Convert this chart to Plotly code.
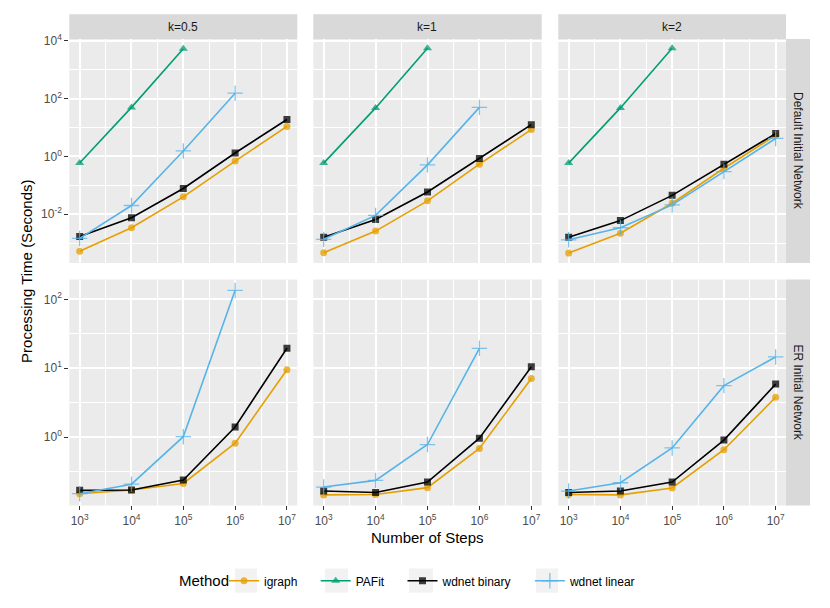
import plotly.graph_objects as go

W, H = 830, 608

# ---------------- data ----------------
steps = [1e3, 1e4, 1e5, 1e6, 1e7]
k_labels = ["k=0.5", "k=1", "k=2"]
row_labels = ["Default Initial Network", "ER Initial Network"]
methods = ["igraph", "PAFit", "wdnet binary", "wdnet linear"]
legend_title = "Method"

x_tickvals = [1e3, 1e4, 1e5, 1e6, 1e7]
x_ticktext = ["10<sup>3</sup>", "10<sup>4</sup>", "10<sup>5</sup>", "10<sup>6</sup>", "10<sup>7</sup>"]
top_tickvals = [1e-2, 1e0, 1e2, 1e4]
top_ticktext = ["10<sup>-2</sup>", "10<sup>0</sup>", "10<sup>2</sup>", "10<sup>4</sup>"]
bottom_tickvals = [1e0, 1e1, 1e2]
bottom_ticktext = ["10<sup>0</sup>", "10<sup>1</sup>", "10<sup>2</sup>"]

# Default initial network (top row)
default_k05_igraph = [0.00052, 0.0034, 0.040, 0.69, 11.0]
default_k05_pafit = [0.59, 50, 5400]
default_k05_binary = [0.0017, 0.0076, 0.078, 1.32, 19.0]
default_k05_linear = [0.00145, 0.020, 1.55, 155]

default_k1_igraph = [0.00046, 0.0026, 0.029, 0.54, 8.5]
default_k1_pafit = [0.59, 48, 5600]
default_k1_binary = [0.0016, 0.0066, 0.059, 0.85, 12.6]
default_k1_linear = [0.00135, 0.0091, 0.51, 50]

default_k2_igraph = [0.00045, 0.0022, 0.024, 0.39, 5.4]
default_k2_pafit = [0.59, 48, 5600]
default_k2_binary = [0.0016, 0.0060, 0.045, 0.54, 6.2]
default_k2_linear = [0.0013, 0.0034, 0.021, 0.30, 4.2]

# ER initial network (bottom row)
er_k05_igraph = [0.152, 0.172, 0.214, 0.82, 9.5]
er_k05_binary = [0.170, 0.172, 0.24, 1.41, 19.5]
er_k05_linear = [0.152, 0.209, 1.02, 135]

er_k1_igraph = [0.146, 0.148, 0.186, 0.69, 7.1]
er_k1_binary = [0.166, 0.158, 0.224, 0.97, 10.5]
er_k1_linear = [0.19, 0.237, 0.785, 19.5]

er_k2_igraph = [0.148, 0.146, 0.184, 0.66, 3.8]
er_k2_binary = [0.158, 0.166, 0.224, 0.91, 5.9]
er_k2_linear = [0.166, 0.219, 0.70, 5.6, 14.6]

panels = [
    {"igraph": default_k05_igraph, "PAFit": default_k05_pafit,
     "wdnet binary": default_k05_binary, "wdnet linear": default_k05_linear},
    {"igraph": default_k1_igraph, "PAFit": default_k1_pafit,
     "wdnet binary": default_k1_binary, "wdnet linear": default_k1_linear},
    {"igraph": default_k2_igraph, "PAFit": default_k2_pafit,
     "wdnet binary": default_k2_binary, "wdnet linear": default_k2_linear},
    {"igraph": er_k05_igraph, "wdnet binary": er_k05_binary, "wdnet linear": er_k05_linear},
    {"igraph": er_k1_igraph, "wdnet binary": er_k1_binary, "wdnet linear": er_k1_linear},
    {"igraph": er_k2_igraph, "wdnet binary": er_k2_binary, "wdnet linear": er_k2_linear},
]

# ---------------- styles ----------------
colors = {"igraph": "#E69F00", "PAFit": "#009E73",
          "wdnet binary": "#000000", "wdnet linear": "#56B4E9"}
symbols = {"igraph": "circle", "PAFit": "triangle-up",
           "wdnet binary": "square", "wdnet linear": "cross-thin"}
msizes = {"igraph": 7, "PAFit": 8, "wdnet binary": 7, "wdnet linear": 11}
NBSP = "\u00a0"
legend_pad = NBSP * 4

FONT = "Liberation Sans, Arial, sans-serif"
panel_x = [(69.3, 297.3), (313.3, 541.7), (558.3, 786.0)]
panel_y = [(32.3, 259.0), (275.7, 504.3)]
strip_top = 7.3
strip_right = 810.0
y_ranges = [[-3.69, 4.07], [-0.989, 2.287]]
y_minor = [[1e-3, 1e-1, 1e1, 1e3], [10 ** -0.5, 10 ** 0.5, 10 ** 1.5]]
x_minor = [10 ** 3.5, 10 ** 4.5, 10 ** 5.5, 10 ** 6.5]
legend_keys_px = [(235, 257), (325, 348), (409, 433), (536, 558)]
legend_key_y = (568, 592.5)
legend_cy = 580.5

fig = go.Figure()
shown = set()
layout = {}
for i, pdata in enumerate(panels):
    row, col = divmod(i, 3)
    n = i + 1
    xa = "x" if n == 1 else f"x{n}"
    ya = "y" if n == 1 else f"y{n}"
    for m in methods:
        if m not in pdata:
            continue
        vals = pdata[m]
        marker = dict(symbol=symbols[m], size=msizes[m], color=colors[m], opacity=0.75)
        if m == "wdnet linear":
            marker["line"] = dict(width=1.3, color=colors[m])
        fig.add_trace(go.Scatter(
            x=steps[:len(vals)], y=vals, mode="lines+markers",
            name=m + (legend_pad if m != methods[-1] else ""),
            showlegend=m not in shown,
            line=dict(color=colors[m], width=1.6), marker=marker,
            xaxis=xa, yaxis=ya))
        shown.add(m)
    x0, x1 = panel_x[col]
    y0, y1 = panel_y[row]
    bottom = row == 1
    left = col == 0
    layout["xaxis" if n == 1 else f"xaxis{n}"] = dict(
        type="log", range=[2.8, 7.2], domain=[x0 / W, x1 / W], anchor=ya,
        tickvals=x_tickvals, ticktext=x_ticktext, showticklabels=bottom,
        ticks="outside" if bottom else "", ticklen=4, tickwidth=1, tickcolor="#333333",
        tickfont=dict(family=FONT, size=12, color="#4D4D4D"),
        showgrid=True, gridcolor="white", gridwidth=1.8, zeroline=False, showline=False,
        minor=dict(tickvals=x_minor, showgrid=True, gridcolor="white", gridwidth=0.9, ticks=""))
    layout["yaxis" if n == 1 else f"yaxis{n}"] = dict(
        type="log", range=y_ranges[row], domain=[1 - y1 / H, 1 - y0 / H], anchor=xa,
        tickvals=top_tickvals if row == 0 else bottom_tickvals,
        ticktext=top_ticktext if row == 0 else bottom_ticktext,
        showticklabels=left, ticks="outside" if left else "", ticklen=4, tickwidth=1,
        tickcolor="#333333", tickfont=dict(family=FONT, size=12, color="#4D4D4D"),
        showgrid=True, gridcolor="white", gridwidth=1.8, zeroline=False, showline=False,
        minor=dict(tickvals=y_minor[row], showgrid=True, gridcolor="white", gridwidth=0.9, ticks=""))

shapes = []
annotations = []
# panel backgrounds
for row in range(2):
    for col in range(3):
        x0, x1 = panel_x[col]
        y0, y1 = panel_y[row]
        shapes.append(dict(type="rect", xref="paper", yref="paper", layer="below",
                           x0=x0 / W, x1=x1 / W, y0=1 - y1 / H, y1=1 - y0 / H,
                           fillcolor="#EBEBEB", line=dict(width=0)))
# top strips
for col in range(3):
    x0, x1 = panel_x[col]
    shapes.append(dict(type="rect", xref="paper", yref="paper",
                       x0=x0 / W, x1=x1 / W, y0=1 - panel_y[0][0] / H, y1=1 - strip_top / H,
                       fillcolor="#D9D9D9", line=dict(width=0)))
    annotations.append(dict(text=k_labels[col], xref="paper", yref="paper",
                            x=(x0 + x1) / 2 / W, y=1 - (strip_top + panel_y[0][0]) / 2 / H,
                            showarrow=False, xanchor="center", yanchor="middle",
                            font=dict(family=FONT, size=12, color="#1A1A1A")))
# right strips
for row in range(2):
    y0, y1 = panel_y[row]
    shapes.append(dict(type="rect", xref="paper", yref="paper",
                       x0=panel_x[2][1] / W, x1=strip_right / W, y0=1 - y1 / H, y1=1 - y0 / H,
                       fillcolor="#D9D9D9", line=dict(width=0)))
    annotations.append(dict(text=row_labels[row], xref="paper", yref="paper",
                            x=(panel_x[2][1] + strip_right) / 2 / W, y=1 - (y0 + y1) / 2 / H,
                            showarrow=False, xanchor="center", yanchor="middle", textangle=90,
                            font=dict(family=FONT, size=12, color="#1A1A1A")))
# legend key backgrounds
for kx0, kx1 in legend_keys_px:
    shapes.append(dict(type="rect", xref="paper", yref="paper", layer="below",
                       x0=kx0 / W, x1=kx1 / W, y0=1 - legend_key_y[1] / H, y1=1 - legend_key_y[0] / H,
                       fillcolor="#F2F2F2", line=dict(width=0)))
# legend title
annotations.append(dict(text=legend_title, xref="paper", yref="paper",
                        x=177 / W, y=1 - legend_cy / H, showarrow=False,
                        xanchor="left", yanchor="middle",
                        font=dict(family=FONT, size=15, color="#000000")))
# axis titles
annotations.append(dict(text="Number of Steps", xref="paper", yref="paper",
                        x=427.5 / W, y=1 - 536.5 / H, showarrow=False,
                        xanchor="center", yanchor="middle",
                        font=dict(family=FONT, size=15, color="#000000")))
annotations.append(dict(text="Processing Time (Seconds)", xref="paper", yref="paper",
                        x=27 / W, y=1 - 268 / H, showarrow=False, textangle=-90,
                        xanchor="center", yanchor="middle",
                        font=dict(family=FONT, size=15, color="#000000")))

fig.update_layout(
    width=W, height=H, margin=dict(l=0, r=0, t=0, b=0),
    paper_bgcolor="white", plot_bgcolor="rgba(0,0,0,0)",
    shapes=shapes, annotations=annotations,
    legend=dict(orientation="h", x=224 / W, xanchor="left", y=1 - legend_cy / H, yanchor="middle",
                traceorder="normal",
                font=dict(family=FONT, size=12, color="#000000"),
                bgcolor="rgba(0,0,0,0)"),
    **layout)

fig.write_html("out.html", config={"displayModeBar": False},
               post_script="document.body.style.margin='0px';")
